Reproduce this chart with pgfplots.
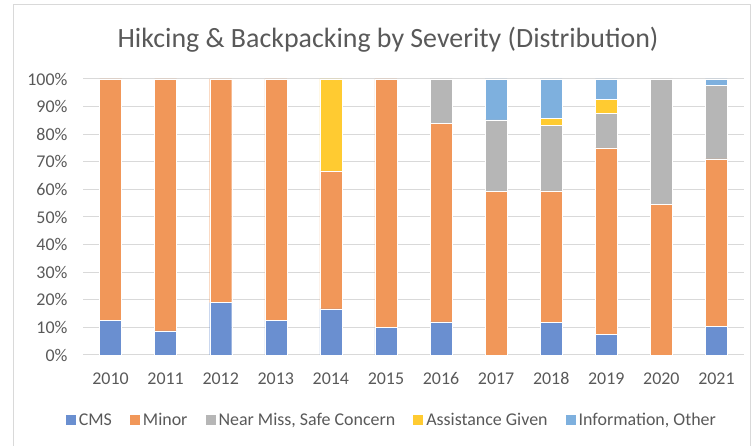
\documentclass[border=0pt]{standalone}
\usepackage{pgfplots}
\pgfplotsset{compat=1.18}
\usepackage{fontspec}
\setmainfont{Carlito}
\definecolor{cms}{HTML}{6A8FD0}
\definecolor{minor}{HTML}{F19759}
\definecolor{nearmiss}{HTML}{B6B6B6}
\definecolor{assist}{HTML}{FFCB31}
\definecolor{info}{HTML}{7EB0DE}
\definecolor{gridc}{HTML}{D9D9D9}
\definecolor{txt}{HTML}{595959}
\begin{document}
\begin{tikzpicture}[x=1bp,y=1bp]
\path[use as bounding box] (0,0) rectangle (755,446);
\draw[color=gridc, line width=0.75bp] (13,-2) -- (13,442) -- (750,442) -- (750,-2);
\node[text=txt, font=\fontsize{28}{33}\selectfont] at (388,406) {Hikcing \& Backpacking by Severity (Distribution)};
\begin{axis}[
  at={(83bp,91bp)}, anchor=south west,
  scale only axis, width=661bp, height=276bp,
  ybar stacked, bar width=22bp,
  xmin=-0.5, xmax=11.5, ymin=0, ymax=100,
  xtick={0,...,11},
  xticklabels={2010,2011,2012,2013,2014,2015,2016,2017,2018,2019,2020,2021},
  ytick={0,10,...,100},
  yticklabel={\pgfmathprintnumber{\tick}\%},
  /pgf/number format/assume math mode=true,
  tick style={draw=none},
  ymajorgrids, grid style={color=gridc, line width=1bp},
  axis x line*=bottom, axis y line*=left,
  x axis line style={color=gridc, line width=1bp, -},
  y axis line style={draw=none},
  ticklabel style={text=txt, font=\fontsize{18}{21}\selectfont},
  yticklabel style={xshift=-12bp},
  xticklabel style={yshift=-14bp},
  every axis plot/.append style={draw=white, line width=0.4bp},
  legend style={at={(0.468,-0.2355)}, anchor=center, legend columns=5, draw=none,
    font=\fontsize{18}{21}\selectfont, text=txt,
    nodes={inner ysep=2bp, inner xsep=3bp},
    /tikz/every even column/.append style={column sep=15bp}},
  legend image code/.code={\fill[#1, draw=none] (0bp,-5bp) rectangle (10bp,5bp);},
]
\addplot[fill=cms] coordinates {(0,12.5) (1,8.7) (2,19) (3,12.5) (4,16.7) (5,10) (6,12) (7,0) (8,11.9) (9,7.5) (10,0) (11,10.4)};
\addplot[fill=minor] coordinates {(0,87.5) (1,91.3) (2,81) (3,87.5) (4,50) (5,90) (6,72) (7,59.3) (8,47.6) (9,67.5) (10,54.5) (11,60.7)};
\addplot[fill=nearmiss] coordinates {(0,0) (1,0) (2,0) (3,0) (4,0) (5,0) (6,16) (7,25.9) (8,23.8) (9,12.5) (10,45.5) (11,26.5)};
\addplot[fill=assist] coordinates {(0,0) (1,0) (2,0) (3,0) (4,33.3) (5,0) (6,0) (7,0) (8,2.4) (9,5) (10,0) (11,0)};
\addplot[fill=info] coordinates {(0,0) (1,0) (2,0) (3,0) (4,0) (5,0) (6,0) (7,14.8) (8,14.3) (9,7.5) (10,0) (11,2.4)};
\legend{CMS, Minor, {Near Miss, Safe Concern}, Assistance Given, {Information, Other}}
\end{axis}
\end{tikzpicture}
\end{document}
